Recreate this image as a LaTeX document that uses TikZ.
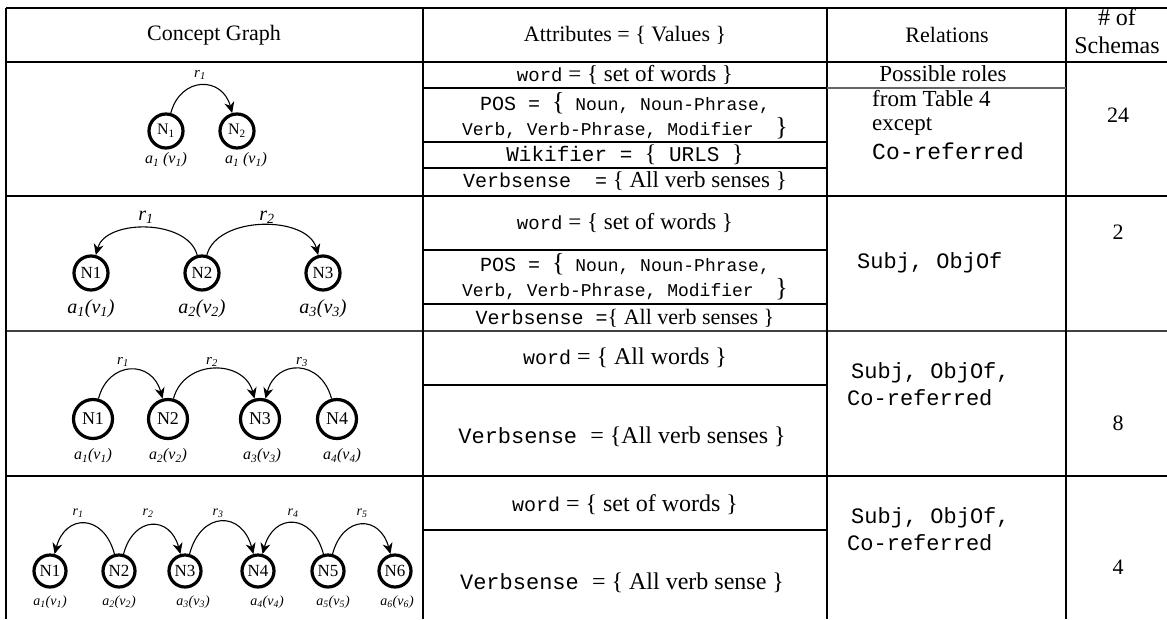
\documentclass[tikz,border=0pt]{standalone}
\usepackage{fontspec}
\setmainfont{Liberation Serif}
\setmonofont{Liberation Mono}
\usetikzlibrary{arrows.meta}
\newcommand{\fs}[1]{\fontsize{#1}{#1}\selectfont}
\newcommand{\av}[1]{a\textsubscript{#1}(v\textsubscript{#1})}
\newcommand{\rl}[1]{r\textsubscript{#1}}
\begin{document}
\begin{tikzpicture}[x=1pt,y=-1pt,
  concept/.style={circle,draw,line width=3.2pt,inner sep=0pt,minimum size=#1},
  tip/.style={-{Stealth[length=11pt,width=10pt,inset=3.5pt]},line width=1.1pt},
  lr/.style={tip,out=75,in=105,looseness=#1},
  rl/.style={tip,out=105,in=75,looseness=#1},
  rule/.style={line width=1.2pt},
  lab/.style={inner sep=0pt,font=\fs{#1}\itshape},
  cell/.style={inner sep=0pt}]
\useasboundingbox (0,0) rectangle (1167,619);

% table rules
\draw[rule] (6,8) -- (1167,8);
\draw[rule] (6,62) -- (1167,62);
\draw[rule] (6,196) -- (1167,196);
\draw[rule,black!75] (6,331) -- (1167,331);
\draw[rule] (6,476) -- (1167,476);
\foreach \x in {6,423,827,1066}
  \draw[rule] (\x,8) -- (\x,619);
\draw[rule] (423,88) -- (827,88);
\draw[rule,black!60] (827,88) -- (1066,88);
\foreach \y in {142,168,250,304,385,530}
  \draw[rule] (423,\y) -- (827,\y);

% header
\node[cell,font=\fs{22}] (hGraph) at (214,35) {Concept Graph};
\node[cell,font=\fs{22}] (hAttr) at (625,35) {Attributes = \{ Values \}};
\node[cell,font=\fs{22}] (hRel) at (947,35) {Relations};
\node[cell,font=\fs{24},align=center] (hNum) at (1117,31) {\# of\\[4pt]Schemas};

% row 1
\node[concept=34pt,font=\fs{16}] (aN1) at (166,131) {N\textsubscript{1}};
\node[concept=34pt,font=\fs{16}] (aN2) at (237,131) {N\textsubscript{2}};
\node[lab=16] (aL1) at (166,160) {a\textsubscript{1} (v\textsubscript{1})};
\node[lab=16] (aL2) at (246,160) {a\textsubscript{1} (v\textsubscript{1})};
\node[lab=15] (aR1) at (200,75) {\rl{1}};
\draw[lr=1.6] (aN1) to (aN2);

\node[cell] (aWord) at (625,75) {{\ttfamily\fs{19}word}{\fs{23} = \{ set of words \}}};
\node[cell] (aPos1) at (625,103) {{\ttfamily\fs{20}POS = }{\fs{26}\{}{\ttfamily\fs{18} Noun, Noun-Phrase,}};
\node[cell] (aPos2) at (625,128) {{\ttfamily\fs{18}Verb, Verb-Phrase, Modifier\ \ }{\fs{26}\}}};
\node[cell] (aWiki) at (625,155) {{\ttfamily\fs{21}Wikifier = }{\fs{24}\{}{\ttfamily\fs{21} URLS }{\fs{24}\}}};
\node[cell] (aSense) at (625,181) {{\ttfamily\fs{20}Verbsense\ \ =}{\fs{23} \{ All verb senses \}}};
\node[cell,font=\fs{23}] (aRel0) at (943,74) {Possible roles};
\node[cell,font=\fs{23},anchor=west] (aRel1) at (872,99) {from Table 4};
\node[cell,font=\fs{23},anchor=west] (aRel2) at (872,126) {except};
\node[cell,font=\fs{23}\ttfamily,anchor=west] (aRel3) at (872,151) {Co-referred};
\node[cell,font=\fs{22}] (aNum) at (1118,115) {24};

% row 2
\node[concept=34pt,font=\fs{17}] (bN1) at (91,273) {N1};
\node[concept=34pt,font=\fs{17}] (bN2) at (202,273) {N2};
\node[concept=34pt,font=\fs{17}] (bN3) at (323,273) {N3};
\foreach \i/\x in {1/91,2/202,3/323}
  \node[lab=20] (bL\i) at (\x,309) {\av{\i}};
\node[lab=20] (bR1) at (146,217) {\rl{1}};
\node[lab=20] (bR2) at (267,217) {\rl{2}};
\draw[rl=0.95] (bN2) to (bN1);
\draw[lr=0.95] (bN2) to (bN3);

\node[cell] (bWord) at (625,223) {{\ttfamily\fs{19}word}{\fs{23} = \{ set of words \}}};
\node[cell] (bPos1) at (625,264) {{\ttfamily\fs{20}POS = }{\fs{26}\{}{\ttfamily\fs{18} Noun, Noun-Phrase,}};
\node[cell] (bPos2) at (625,289) {{\ttfamily\fs{18}Verb, Verb-Phrase, Modifier\ \ }{\fs{26}\}}};
\node[cell] (bSense) at (625,318) {{\ttfamily\fs{20}Verbsense =}{\fs{22}\{ All verb senses \}}};
\node[cell,font=\fs{22}\ttfamily,anchor=west] (bRel) at (857,263) {Subj, ObjOf};
\node[cell,font=\fs{22}] (bNum) at (1118,232) {2};

% row 3
\foreach \i/\x in {1/93,2/168,3/260,4/337}
  \node[concept=39pt,font=\fs{18}] (cN\i) at (\x,419) {N\i};
\foreach \i/\x in {1/93,2/168,3/262,4/342}
  \node[lab=16] (cL\i) at (\x,456) {\av{\i}};
\foreach \i/\x in {1/123,2/212,3/302}
  \node[lab=15] (cR\i) at (\x,362) {\rl{\i}};
\draw[lr=1.6] (cN1) to (cN2);
\draw[lr=1.3] (cN2) to (cN3);
\draw[rl=1.6] (cN4) to (cN3);

\node[cell] (cWord) at (625,358) {{\ttfamily\fs{20}word}{\fs{24} = \{ All words \}}};
\node[cell] (cSense) at (622,437) {{\ttfamily\fs{22}Verbsense }{\fs{24}= \{All verb senses \}}};
\node[cell,font=\fs{22}\ttfamily,anchor=west] (cRel1) at (851,373) {Subj, ObjOf,};
\node[cell,font=\fs{22}\ttfamily,anchor=west] (cRel2) at (847,398) {Co-referred};
\node[cell,font=\fs{22}] (cNum) at (1118,423) {8};

% row 4
\foreach \i/\x in {1/50,2/119,3/185,4/258,5/328,6/395}
  \node[concept=32pt,font=\fs{17}] (dN\i) at (\x,571) {N\i};
\foreach \i/\x in {1/50,2/119,3/193,4/267,5/333,6/397}
  \node[lab=14] (dL\i) at (\x,602) {\av{\i}};
\foreach \i/\x in {1/78,2/148,3/218,4/293,5/362}
  \node[lab=14] (dR\i) at (\x,513) {\rl{\i}};
\draw[rl=1.8] (dN2) to (dN1);
\draw[lr=1.8] (dN2) to (dN3);
\draw[lr=1.8] (dN3) to (dN4);
\draw[rl=1.8] (dN5) to (dN4);
\draw[lr=1.8] (dN5) to (dN6);

\node[cell] (dWord) at (625,505) {{\ttfamily\fs{20}word}{\fs{24} = \{ set of words \}}};
\node[cell] (dSense) at (622,583) {{\ttfamily\fs{22}Verbsense }{\fs{24}= \{ All verb sense \}}};
\node[cell,font=\fs{22}\ttfamily,anchor=west] (dRel1) at (851,518) {Subj, ObjOf,};
\node[cell,font=\fs{22}\ttfamily,anchor=west] (dRel2) at (847,543) {Co-referred};
\node[cell,font=\fs{22}] (dNum) at (1118,567) {4};
\end{tikzpicture}
\end{document}
